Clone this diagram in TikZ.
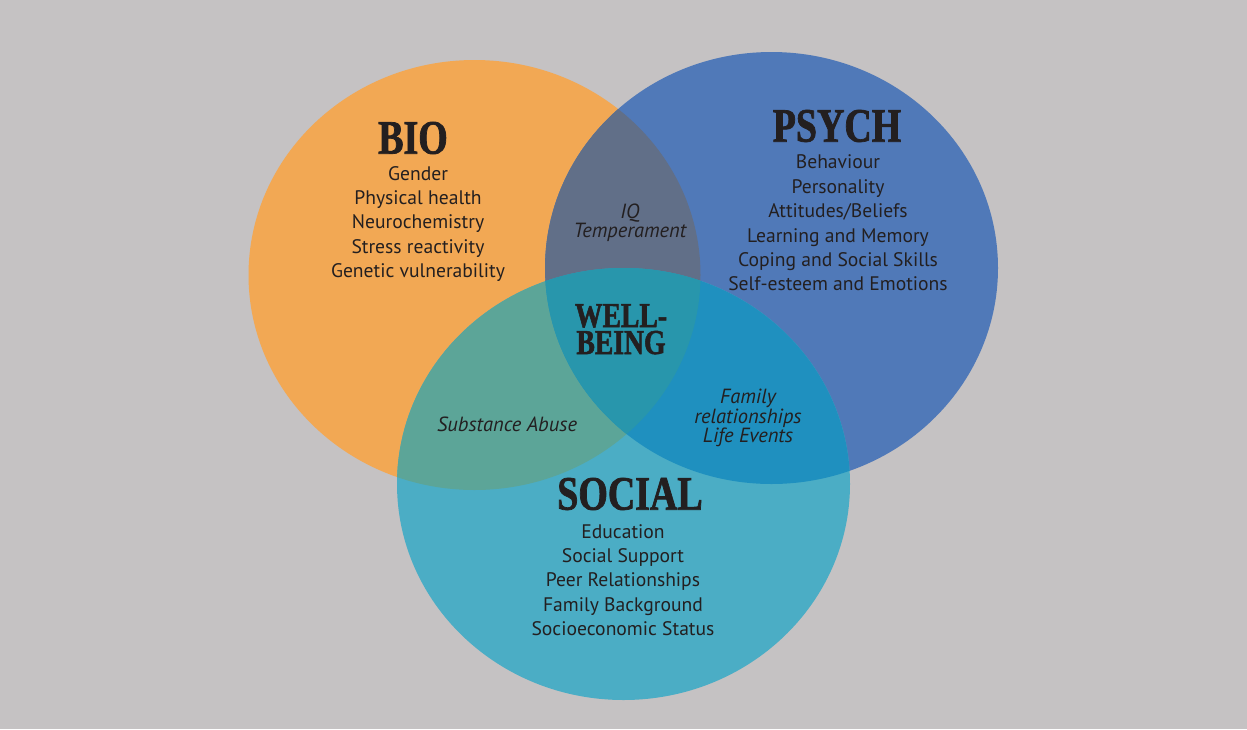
\documentclass[tikz,border=0pt]{standalone}
\usepackage{fontspec}
\setmainfont{PT Sans}
\newfontfamily\headfont[FakeStretch=0.79,FakeBold=1.5]{Liberation Serif Bold}
\definecolor{bgc}{HTML}{C5C2C3}
\definecolor{bioc}{HTML}{F2A854}
\definecolor{psyc}{HTML}{5079B8}
\definecolor{socc}{HTML}{4BADC5}
\definecolor{bpc}{HTML}{616F88}
\definecolor{bsc}{HTML}{5CA598}
\definecolor{psc}{HTML}{1F90BF}
\definecolor{allc}{HTML}{2896AC}
\definecolor{txt}{HTML}{231F20}
\tikzset{
  head/.style={text=txt,font=\headfont\fontsize{48}{48}\selectfont,inner sep=0pt},
  whead/.style={text=txt,font=\headfont\fontsize{35}{35}\selectfont,inner sep=0pt,text height=22pt,text depth=0pt},
  items/.style={text=txt,font=\fontsize{19.6}{24.4}\selectfont,inner sep=0pt,align=center},
  ital/.style={text=txt,font=\itshape\fontsize{20.5}{19.5}\selectfont,inner sep=0pt,align=center}
}
\begin{document}
\begin{tikzpicture}[x=1pt,y=-1pt]
\useasboundingbox (0,0) rectangle (1247,729);
\fill[bgc] (0,0) rectangle (1247,729);
\def\bioE{(474.5,275) ellipse [x radius=226,y radius=215]}
\def\psyE{(771.5,268) ellipse [x radius=226.5,y radius=216]}
\def\socE{(623.5,484) ellipse [x radius=226.5,y radius=216]}
\fill[bioc] \bioE;
\fill[psyc] \psyE;
\fill[socc] \socE;
\begin{scope}
  \clip \bioE;
  \fill[bpc] \psyE;
  \fill[bsc] \socE;
\end{scope}
\begin{scope}
  \clip \psyE;
  \fill[psc] \socE;
\end{scope}
\begin{scope}
  \clip \bioE;
  \clip \psyE;
  \fill[allc] \socE;
\end{scope}
% headings
\node[head] (bio) at (413,138) {BIO};
\node[head] (psych) at (837,126) {PSYCH};
\node[head] (social) at (630,494) {SOCIAL};
\node[whead] (well) at (621,316) {WELL-};
\node[whead] (being) at (621,343) {BEING};
% lists
\node[items] (biol) at (418,224) {Gender\\Physical health\\Neurochemistry\\Stress reactivity\\Genetic vulnerability};
\node[items] (psyl) at (838,223) {Behaviour\\Personality\\Attitudes/Beliefs\\Learning and Memory\\Coping and Social Skills\\Self-esteem and Emotions};
\node[items] (socl) at (623,580) {Education\\Social Support\\Peer Relationships\\Family Background\\Socioeconomic Status};
% overlaps
\node[ital,font=\itshape\fontsize{20.5}{17.5}\selectfont] (bp) at (630,223) {IQ\\Temperament};
\node[ital] (bs) at (507,424) {Substance Abuse};
\node[ital] (ps) at (748,418) {Family\\relationships\\Life Events};
\end{tikzpicture}
\end{document}
